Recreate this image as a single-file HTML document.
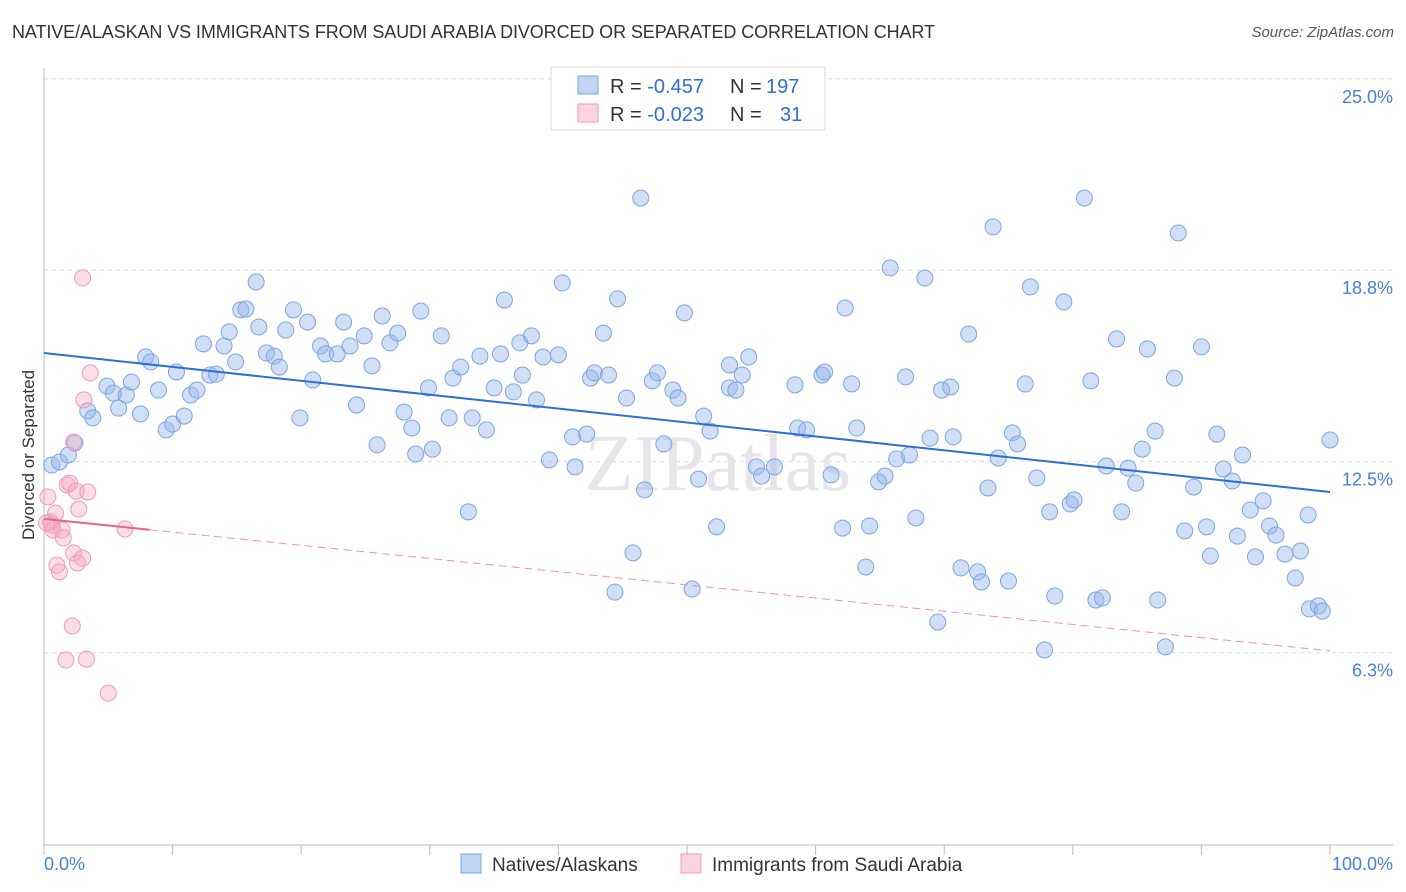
<!DOCTYPE html>
<html><head><meta charset="utf-8">
<style>
body{margin:0;background:#fff;font-family:"Liberation Sans",sans-serif;}
#wrap{position:relative;width:1406px;height:892px;overflow:hidden;}
.title{position:absolute;left:12px;top:22px;font-size:18px;color:#333;letter-spacing:-0.1px;}
.source{position:absolute;right:12px;top:24px;font-size:15px;color:#555;font-style:italic;}
</style></head>
<body>
<div id="wrap">
<div class="title">NATIVE/ALASKAN VS IMMIGRANTS FROM SAUDI ARABIA DIVORCED OR SEPARATED CORRELATION CHART</div>
<div class="source">Source: ZipAtlas.com</div>
<svg id="chart" width="1406" height="892" style="position:absolute;left:0;top:0"></svg>
</div>
<script>
const blueX=[0.6,1.2,1.9,2.4,3.4,3.8,4.9,5.4,5.8,6.4,6.8,7.5,7.9,8.3,8.9,9.5,10.0,10.3,10.9,11.4,11.9,12.4,12.9,13.4,14.0,14.4,14.9,15.3,15.7,16.5,16.7,17.3,17.9,18.3,18.8,19.4,19.9,20.5,20.9,21.5,21.9,22.8,23.3,23.8,24.3,24.9,25.5,25.9,26.3,26.9,27.5,28.0,28.6,28.9,29.3,29.9,30.2,30.9,31.5,31.8,32.4,33.0,33.3,33.9,34.4,35.0,35.5,35.8,36.5,37.0,37.2,37.9,38.3,38.8,39.3,40.0,40.3,41.1,41.3,42.2,42.5,42.8,43.5,43.9,44.4,44.6,45.3,45.8,46.4,46.7,47.3,47.7,48.2,48.9,49.3,49.8,50.4,50.9,51.3,51.8,52.3,53.3,53.3,53.8,54.3,54.8,55.4,55.8,56.8,58.4,58.6,59.3,60.5,60.7,61.2,62.1,62.3,62.8,63.2,63.9,64.2,64.9,65.4,65.8,66.3,67.0,67.3,67.8,68.5,68.9,69.5,69.8,70.5,70.7,71.3,71.9,72.6,72.9,73.4,73.8,74.2,75.0,75.3,75.7,76.3,76.7,77.2,77.8,78.2,78.6,79.3,79.8,80.1,80.9,81.4,81.8,82.3,82.6,83.4,83.8,84.3,84.9,85.4,85.8,86.4,86.6,87.2,87.9,88.2,88.7,89.4,90.0,90.4,90.7,91.2,91.7,92.4,92.8,93.2,93.8,94.2,94.8,95.3,95.8,96.5,97.3,97.7,98.3,98.4,99.1,99.4,100];
const blueY=[12.38,12.48,12.71,13.10,14.15,13.92,14.96,14.73,14.24,14.67,15.09,14.05,15.91,15.75,14.83,13.53,13.72,15.42,13.98,14.67,14.83,16.34,15.32,15.35,16.27,16.73,15.75,17.45,17.48,18.36,16.89,16.04,15.94,15.58,16.79,17.45,13.92,17.05,15.16,16.27,16.01,16.01,17.05,16.27,14.34,16.60,15.62,13.04,17.25,16.37,16.69,14.11,13.59,12.74,17.41,14.90,12.90,16.60,13.92,15.22,15.58,10.85,13.92,15.94,13.53,14.90,16.01,17.77,14.77,16.37,15.32,16.60,14.51,15.91,12.55,15.98,18.33,13.30,12.32,13.39,15.22,15.39,16.69,15.32,8.23,17.81,14.57,9.51,21.10,11.57,15.13,15.39,13.07,14.83,14.57,17.35,8.33,11.92,13.98,13.49,10.36,14.90,15.65,14.83,15.32,15.91,12.32,12.02,12.32,15.00,13.59,13.53,15.32,15.42,12.06,10.32,17.51,15.03,13.59,9.05,10.39,11.83,12.02,18.82,12.58,15.26,12.71,10.65,18.49,13.26,7.25,14.83,14.93,13.30,9.02,16.66,8.89,8.56,11.63,20.16,12.61,8.59,13.43,13.07,15.03,18.20,11.96,6.34,10.85,8.10,17.71,11.11,11.24,21.10,15.13,7.97,8.04,12.35,16.50,10.85,12.28,11.79,12.90,16.17,13.49,7.97,6.44,15.22,19.96,10.23,11.66,16.24,10.36,9.41,13.39,12.25,11.86,10.06,12.71,10.91,9.38,11.21,10.39,10.09,9.47,8.69,9.57,10.75,7.68,7.78,7.61,13.20];
const pinkX=[0.3,0.5,0.6,0.7,0.9,1.0,1.2,1.4,1.5,1.7,1.8,2.0,2.2,2.3,2.3,2.5,2.6,2.7,3.0,3.0,3.1,3.3,3.4,3.6,5.0,6.3,0.2];
const pinkY=[11.34,10.52,10.42,10.26,10.81,9.11,8.89,10.26,10.00,6.01,11.73,11.79,7.12,13.13,9.51,11.53,9.18,10.94,18.49,9.34,14.51,6.04,11.50,15.39,4.93,10.29,10.49];
const blueTrend=[16.04,11.50];
const pinkTrend=[10.62,6.31];
const pinkSolidEnd=8.2;
const yTicks=[25.0,18.8,12.5,6.3];
const yTickVals=[25,18.75,12.5,6.25];
const xTickLabels=["0.0%","100.0%"];

const NS="http://www.w3.org/2000/svg";
const svg=document.getElementById('chart');
const X0=44,X1=1330,Y0=844,PXPER=30.61;
const sx=v=>X0+(X1-X0)*v/100;
const sy=v=>Y0-v*PXPER;
function mk(tag,attrs,parent){const e=document.createElementNS(NS,tag);for(const k in attrs)e.setAttribute(k,attrs[k]);(parent||svg).appendChild(e);return e;}

// gridlines & labels
yTickVals.forEach((v,i)=>{
 const g=mk('line',{x1:X0,x2:1393,y1:sy(v),y2:sy(v),stroke:'#dcdcdc','stroke-dasharray':'4,4'});
 
 
 const t=mk('text',{x:1393,y:sy(v)+24,'text-anchor':'end','font-size':18,fill:'#4a7fd6'});
 t.textContent=yTicks[i].toFixed(1)+'%';
 
 
});
const topg=mk('line',{x1:X0,x2:1393,y1:79,y2:79,stroke:'#dcdcdc','stroke-dasharray':'4,4'});
// axes
const ax=mk('line',{x1:X0,x2:1393,y1:845,y2:845,stroke:'#bbb'});


const ay=mk('line',{x1:X0,x2:X0,y1:68,y2:845,stroke:'#bbb'});


for(let i=0;i<=10;i++){
 const tk=mk('line',{x1:sx(i*10),x2:sx(i*10),y1:845,y2:855,stroke:'#bbb'});
 
 
}
const xl0=mk('text',{x:44,y:870,'font-size':18,fill:'#4a7fd6'});xl0.textContent=xTickLabels[0];


const xl1=mk('text',{x:1393,y:870,'font-size':18,fill:'#4a7fd6','text-anchor':'end'});xl1.textContent=xTickLabels[1];


const yt=mk('text',{x:34,y:455,'font-size':17,fill:'#333','text-anchor':'middle',transform:'rotate(-90 34 455)'});
yt.textContent='Divorced or Separated';


// watermark
const wm=mk('text',{x:718,y:490,'font-size':80,fill:'#e6e6ea','text-anchor':'middle','font-family':'Liberation Serif, serif'});
wm.textContent='ZIPatlas';


// points
blueX.forEach((x,i)=>{
 const c=mk('circle',{cx:sx(x),cy:sy(blueY[i]),r:8,fill:'rgba(150,185,235,0.45)',stroke:'#7da5e0','stroke-width':1});
 
 
});
pinkX.forEach((x,i)=>{
 const c=mk('circle',{cx:sx(x),cy:sy(pinkY[i]),r:8,fill:'rgba(245,170,195,0.4)',stroke:'#f09ab8','stroke-width':1});
 
 
});
// trends
const bt=mk('line',{x1:sx(0),y1:sy(blueTrend[0]),x2:sx(100),y2:sy(blueTrend[1]),stroke:'#2d6fd8','stroke-width':2});


const pAt=x=>pinkTrend[0]+(pinkTrend[1]-pinkTrend[0])*x/100;
const ps=mk('line',{x1:sx(0),y1:sy(pAt(0)),x2:sx(pinkSolidEnd),y2:sy(pAt(pinkSolidEnd)),stroke:'#e8638f','stroke-width':2});


const pd=mk('line',{x1:sx(pinkSolidEnd),y1:sy(pAt(pinkSolidEnd)),x2:sx(100),y2:sy(pAt(100)),stroke:'#ef8fb0','stroke-width':1,'stroke-dasharray':'8,5'});



// legend top
const lg=mk('g',{});


mk('rect',{x:551,y:67,width:274,height:63,fill:'#fff',stroke:'#d8d8d8'},lg);
mk('rect',{x:578,y:76,width:20,height:18,fill:'rgba(150,185,235,0.6)',stroke:'#7da5e0'},lg);
mk('rect',{x:578,y:104,width:20,height:18,fill:'rgba(245,170,195,0.5)',stroke:'#f09ab8'},lg);
const rows=[['-0.457','197',93],['-0.023',' 31',121]];
rows.forEach(r=>{
 const t=mk('text',{x:610,y:r[2],'font-size':20,fill:'#333'},lg);
 t.innerHTML='R = <tspan fill="#2d6fd8">'+r[0]+'</tspan>';
 const n=mk('text',{x:730,y:r[2],'font-size':20,fill:'#333'},lg);
 n.innerHTML='N = <tspan fill="#2d6fd8" x="'+(r[1]==' 31'?780:766)+'">'+r[1].trim()+'</tspan>';
});
// bottom legend
const bl=mk('g',{});


mk('rect',{x:461,y:854,width:20,height:19,fill:'rgba(150,185,235,0.6)',stroke:'#7da5e0'},bl);
const bt1=mk('text',{x:492,y:871,'font-size':19,fill:'#333'},bl);bt1.textContent='Natives/Alaskans';
mk('rect',{x:681,y:854,width:20,height:19,fill:'rgba(245,170,195,0.5)',stroke:'#f09ab8'},bl);
const bt2=mk('text',{x:712,y:871,'font-size':19,fill:'#333'},bl);bt2.textContent='Immigrants from Saudi Arabia';
</script>
</body></html>
